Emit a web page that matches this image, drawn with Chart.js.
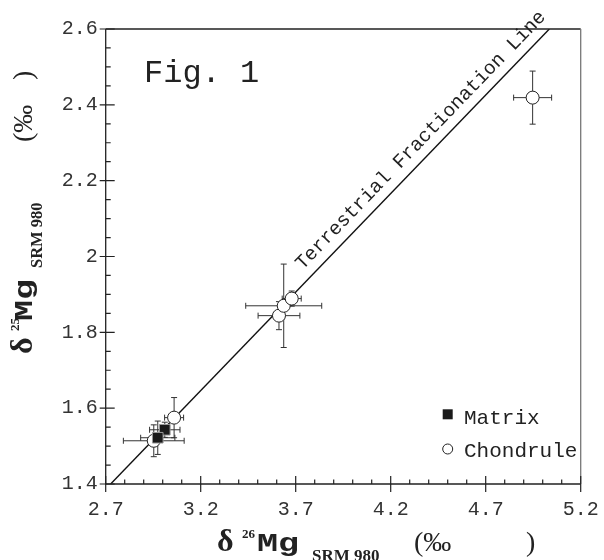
<!DOCTYPE html>
<html><head><meta charset="utf-8">
<script src="https://cdn.jsdelivr.net/npm/chart.js@4"></script>
<style>html,body{margin:0;padding:0;background:#fff;} #wrap{width:604px;height:560px;}</style>
</head><body><div id="wrap"><canvas id="c" width="604" height="560"></canvas></div>
<script>
// ---- data ----
const matrixX = [3.011, 2.974];
const matrixY = [1.543, 1.522];
const matrixXErr = [0.08, 0.09];
const matrixYErr = [0.02, 0.044];
const chondruleX = [2.953, 3.060, 3.612, 3.637, 3.679, 4.947];
const chondruleY = [1.514, 1.575, 1.844, 1.870, 1.889, 2.419];
const chondruleXErr = [0.16, 0.05, 0.11, 0.20, 0.05, 0.10];
const chondruleYErr = [0.042, 0.053, 0.037, 0.11, 0.02, 0.07];
const tflX = [2.726, 5.035];
const tflY = [1.4, 2.6];
const xTickValues = [2.7, 3.2, 3.7, 4.2, 4.7, 5.2];
const xTickLabels = ['2.7', '3.2', '3.7', '4.2', '4.7', '5.2'];
const yTickValues = [1.4, 1.6, 1.8, 2.0, 2.2, 2.4, 2.6];
const yTickLabels = ['1.4', '1.6', '1.8', '2', '2.2', '2.4', '2.6'];
const seriesNames = ['Matrix', 'Chondrule'];
const figLabel = 'Fig. 1';
const lineLabel = 'Terrestrial Fractionation Line';

const MONO = '"Liberation Mono", "DejaVu Sans Mono", monospace';
const SERIF = '"Liberation Serif", "DejaVu Serif", serif';
const INK = '#222';

const toPts = (X, Y) => X.map((x, i) => ({x: x, y: Y[i]}));

const errorBars = {
  id: 'errorBars',
  beforeDatasetsDraw(chart) {
    const ctx = chart.ctx, xs = chart.scales.x, ys = chart.scales.y;
    ctx.save();
    ctx.strokeStyle = '#333';
    ctx.lineWidth = 1;
    const cap = 3;
    const draw = (X, Y, EX, EY) => {
      for (let i = 0; i < X.length; i++) {
        const px = xs.getPixelForValue(X[i]), py = ys.getPixelForValue(Y[i]);
        const x1 = xs.getPixelForValue(X[i] - EX[i]), x2 = xs.getPixelForValue(X[i] + EX[i]);
        const y1 = ys.getPixelForValue(Y[i] - EY[i]), y2 = ys.getPixelForValue(Y[i] + EY[i]);
        ctx.beginPath();
        ctx.moveTo(x1, py); ctx.lineTo(x2, py);
        ctx.moveTo(x1, py - cap); ctx.lineTo(x1, py + cap);
        ctx.moveTo(x2, py - cap); ctx.lineTo(x2, py + cap);
        ctx.moveTo(px, y1); ctx.lineTo(px, y2);
        ctx.moveTo(px - cap, y1); ctx.lineTo(px + cap, y1);
        ctx.moveTo(px - cap, y2); ctx.lineTo(px + cap, y2);
        ctx.stroke();
      }
    };
    draw(chondruleX, chondruleY, chondruleXErr, chondruleYErr);
    draw(matrixX, matrixY, matrixXErr, matrixYErr);
    ctx.restore();
  }
};

function txt(ctx, s, x, y, font, sx) {
  ctx.save();
  ctx.font = font;
  ctx.translate(x, y);
  if (sx) ctx.scale(sx, 1);
  ctx.fillText(s, 0, 0);
  ctx.restore();
}

function axisTitle(ctx, sup, pos, subSize) {
  ctx.fillStyle = INK;
  ctx.textBaseline = 'alphabetic';
  ctx.textAlign = 'left';
  txt(ctx, 'δ', pos[0], 0, 'bold 32px ' + SERIF);
  txt(ctx, sup, pos[1], -13, 'bold 13px ' + SERIF);
  txt(ctx, 'Mg', pos[2], 0, 'bold 26px ' + MONO, 1.35);
  txt(ctx, 'SRM 980', pos[3], 10, 'bold ' + subSize + 'px ' + SERIF);
  txt(ctx, '(‰', pos[4], 0, '28px ' + SERIF);
  txt(ctx, ')', pos[5], 0, '28px ' + SERIF);
}

const decor = {
  id: 'decor',
  afterDraw(chart) {
    const ctx = chart.ctx, a = chart.chartArea, xs = chart.scales.x, ys = chart.scales.y;
    ctx.save();
    // frame
    ctx.lineWidth = 1.3;
    ctx.strokeStyle = INK;
    ctx.beginPath();
    ctx.moveTo(a.left, a.top); ctx.lineTo(a.right, a.top);
    ctx.moveTo(a.left, a.top); ctx.lineTo(a.left, a.bottom); ctx.lineTo(a.right, a.bottom);
    ctx.stroke();
    ctx.strokeStyle = '#777';
    ctx.beginPath();
    ctx.moveTo(a.right, a.top); ctx.lineTo(a.right, a.bottom);
    ctx.stroke();
    // ticks
    ctx.strokeStyle = INK;
    ctx.lineWidth = 1.2;
    ctx.beginPath();
    for (let v = 0; v <= 25; v++) {
      const x = xs.getPixelForValue(2.7 + v * 0.1);
      if (v % 5 === 0) { ctx.moveTo(x, a.bottom - 8); ctx.lineTo(x, a.bottom + 8); }
      else { ctx.moveTo(x, a.bottom - 4.5); ctx.lineTo(x, a.bottom); }
    }
    for (let v = 0; v <= 24; v++) {
      const y = ys.getPixelForValue(1.4 + v * 0.05);
      if (v % 4 === 0) { ctx.moveTo(a.left - 6, y); ctx.lineTo(a.left + 9, y); }
      else { ctx.moveTo(a.left, y); ctx.lineTo(a.left + 5, y); }
    }
    ctx.stroke();

    // Fig. 1
    ctx.fillStyle = INK;
    ctx.textAlign = 'left';
    ctx.textBaseline = 'alphabetic';
    txt(ctx, figLabel, 144, 82, '32px ' + MONO);

    // line label
    const p1x = xs.getPixelForValue(tflX[0]), p1y = ys.getPixelForValue(tflY[0]);
    const p2x = xs.getPixelForValue(tflX[1]), p2y = ys.getPixelForValue(tflY[1]);
    const ang = Math.atan2(p2y - p1y, p2x - p1x);
    const t = (3.775 - tflX[0]) / (tflX[1] - tflX[0]);
    ctx.save();
    ctx.translate(p1x + t * (p2x - p1x), p1y + t * (p2y - p1y));
    ctx.rotate(ang);
    ctx.font = '19.5px ' + MONO;
    ctx.fillText(lineLabel, 0, -10);
    ctx.restore();

    // legend
    ctx.fillStyle = '#1a1a1a';
    ctx.fillRect(442.7, 409.3, 10, 10);
    ctx.strokeStyle = '#222';
    ctx.lineWidth = 1;
    ctx.beginPath();
    ctx.arc(447.7, 449, 5, 0, Math.PI * 2);
    ctx.stroke();
    ctx.fillStyle = INK;
    txt(ctx, seriesNames[0], 464, 424, '21px ' + MONO);
    txt(ctx, seriesNames[1], 464, 457, '21px ' + MONO);

    // x title
    ctx.save();
    ctx.translate(0, 551);
    axisTitle(ctx, '26', [217, 242, 257, 312, 414, 526], 17);
    ctx.restore();
    // y title
    ctx.save();
    ctx.translate(32, 354);
    ctx.rotate(-Math.PI / 2);
    axisTitle(ctx, '25', [0, 23, 33, 86, 212, 274], 16.5);
    ctx.restore();

    ctx.restore();
  }
};

new Chart(document.getElementById('c'), {
  type: 'scatter',
  data: {
    datasets: [
      {label: seriesNames[0], data: toPts(matrixX, matrixY), pointStyle: 'rect', pointRadius: 7.5,
       backgroundColor: '#1a1a1a', borderColor: '#999', borderWidth: 1, order: 0},
      {label: seriesNames[1], data: toPts(chondruleX, chondruleY), pointStyle: 'circle', pointRadius: 6.5,
       backgroundColor: '#fff', borderColor: '#222', borderWidth: 1, order: 1},
      {label: lineLabel, type: 'line', data: toPts(tflX, tflY), showLine: true, pointRadius: 0,
       borderColor: '#111', borderWidth: 1.4, fill: false, order: 2}
    ]
  },
  options: {
    responsive: false,
    animation: false,
    layout: {padding: {left: 0, top: 29, right: 23.3, bottom: 0}},
    plugins: {legend: {display: false}, tooltip: {enabled: false}},
    scales: {
      x: {
        type: 'linear', min: 2.7, max: 5.2,
        grid: {display: false, drawTicks: false},
        border: {display: false},
        afterBuildTicks: s => { s.ticks = xTickValues.map(v => ({value: v})); },
        afterFit: s => { s.height = 76; s.paddingLeft = 0; s.paddingRight = 0; },
        ticks: {autoSkip: false, maxRotation: 0, padding: 14, color: '#333',
                font: {family: MONO, size: 20},
                callback: (v, i) => xTickLabels[i]}
      },
      y: {
        type: 'linear', min: 1.4, max: 2.6,
        grid: {display: false, drawTicks: false},
        border: {display: false},
        afterBuildTicks: s => { s.ticks = yTickValues.map(v => ({value: v})); },
        afterFit: s => { s.width = 105.7; s.paddingTop = 0; s.paddingBottom = 0; },
        ticks: {autoSkip: false, padding: 8, color: '#333',
                font: {family: MONO, size: 20},
                callback: (v, i) => yTickLabels[i]}
      }
    }
  },
  plugins: [errorBars, decor]
});
</script>
</body></html>
